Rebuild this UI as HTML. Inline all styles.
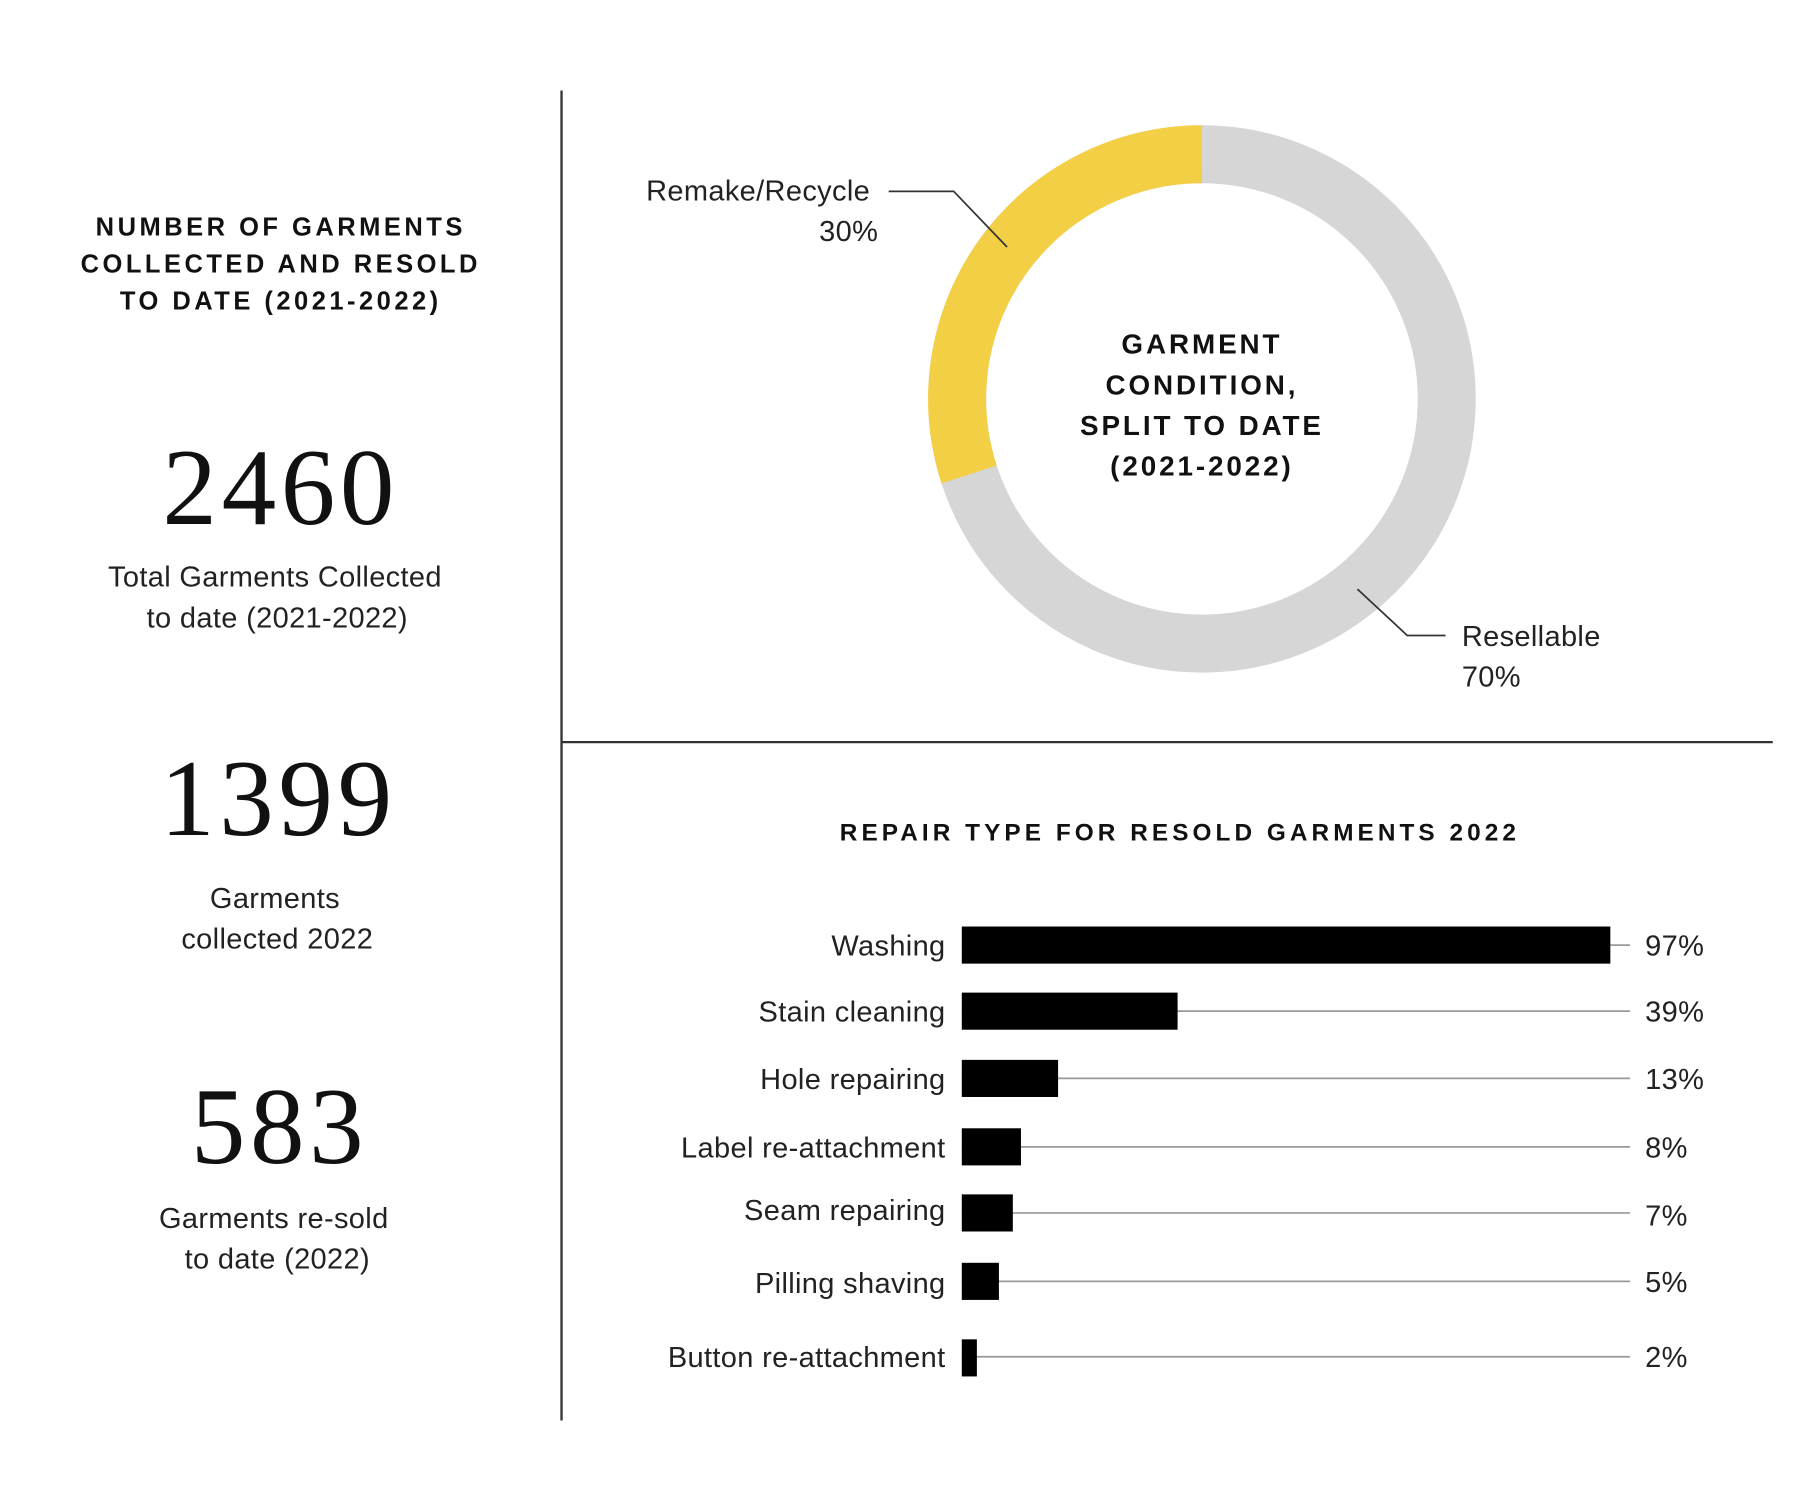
<!DOCTYPE html>
<html><head><meta charset="utf-8"><style>
html,body{margin:0;padding:0;background:#fff;}
svg{display:block;}
text{font-family:"Liberation Sans",sans-serif;fill:#111;}
.h{font-weight:bold;letter-spacing:3px;font-size:22px;}
.n{font-family:"Liberation Serif",serif;font-size:94px;letter-spacing:4px;}
.s{font-size:25px;fill:#222;letter-spacing:0.3px;}
.g{stroke:#999;stroke-width:1.5;}
</style></head><body>
<svg width="1818" height="1504" viewBox="0 0 1567 1297" preserveAspectRatio="none" xmlns="http://www.w3.org/2000/svg">
<rect width="1567" height="1297" fill="#fff"/>
<line x1="484" y1="78" x2="484" y2="1225" stroke="#333" stroke-width="2"/>
<line x1="484" y1="640" x2="1528" y2="640" stroke="#333" stroke-width="2"/>
<g text-anchor="middle">
<text class="h" x="242" y="203">NUMBER OF GARMENTS</text>
<text class="h" x="242" y="235">COLLECTED AND RESOLD</text>
<text class="h" x="242" y="267">TO DATE (2021-2022)</text>
<text class="n" x="242" y="452">2460</text>
<text class="s" x="237" y="506">Total Garments Collected</text>
<text class="s" x="239" y="541">to date (2021-2022)</text>
<text class="n" x="240" y="720">1399</text>
<text class="s" x="237" y="783">Garments</text>
<text class="s" x="239" y="818">collected 2022</text>
<text class="n" x="241" y="1003">583</text>
<text class="s" x="236" y="1059">Garments re-sold</text>
<text class="s" x="239" y="1094">to date (2022)</text>
<text class="h" x="1036" y="305" style="font-size:24px;letter-spacing:2.5px">GARMENT</text>
<text class="h" x="1036" y="340" style="font-size:24px;letter-spacing:2.5px">CONDITION,</text>
<text class="h" x="1036" y="375" style="font-size:24px;letter-spacing:2.5px">SPLIT TO DATE</text>
<text class="h" x="1036" y="410" style="font-size:24px;letter-spacing:2.5px">(2021-2022)</text>
<text class="h" x="1017" y="725" style="font-size:21px;letter-spacing:3.5px">REPAIR TYPE FOR RESOLD GARMENTS 2022</text>
</g>
<circle cx="1036" cy="344" r="211" fill="none" stroke="#d6d6d6" stroke-width="50"/>
<path d="M1036 133 A211 211 0 0 0 835.3 409.2" fill="none" stroke="#f2cf45" stroke-width="50"/>
<polyline points="766,165 822,165 868,213" fill="none" stroke="#333" stroke-width="1.5"/>
<polyline points="1170,508 1213,548 1246,548" fill="none" stroke="#333" stroke-width="1.5"/>
<text class="s" x="750" y="173" text-anchor="end">Remake/Recycle</text>
<text class="s" x="757" y="208" text-anchor="end">30%</text>
<text class="s" x="1260" y="557">Resellable</text>
<text class="s" x="1260" y="592">70%</text>
<g>
<line class="g" x1="829" y1="815" x2="1405" y2="815"/><rect x="829" y="799" width="559" height="32" fill="#000"/>
<line class="g" x1="829" y1="872" x2="1405" y2="872"/><rect x="829" y="856" width="186" height="32" fill="#000"/>
<line class="g" x1="829" y1="930" x2="1405" y2="930"/><rect x="829" y="914" width="83" height="32" fill="#000"/>
<line class="g" x1="829" y1="989" x2="1405" y2="989"/><rect x="829" y="973" width="51" height="32" fill="#000"/>
<line class="g" x1="829" y1="1046" x2="1405" y2="1046"/><rect x="829" y="1030" width="44" height="32" fill="#000"/>
<line class="g" x1="829" y1="1105" x2="1405" y2="1105"/><rect x="829" y="1089" width="32" height="32" fill="#000"/>
<line class="g" x1="829" y1="1170" x2="1405" y2="1170"/><rect x="829" y="1155" width="13" height="32" fill="#000"/>
</g>
<g text-anchor="end">
<text class="s" x="815" y="824">Washing</text>
<text class="s" x="815" y="881">Stain cleaning</text>
<text class="s" x="815" y="939">Hole repairing</text>
<text class="s" x="815" y="998">Label re-attachment</text>
<text class="s" x="815" y="1052">Seam repairing</text>
<text class="s" x="815" y="1115">Pilling shaving</text>
<text class="s" x="815" y="1179">Button re-attachment</text>
</g>
<g>
<text class="s" x="1418" y="824">97%</text>
<text class="s" x="1418" y="881">39%</text>
<text class="s" x="1418" y="939">13%</text>
<text class="s" x="1418" y="998">8%</text>
<text class="s" x="1418" y="1057">7%</text>
<text class="s" x="1418" y="1114">5%</text>
<text class="s" x="1418" y="1179">2%</text>
</g>
</svg>
</body></html>
